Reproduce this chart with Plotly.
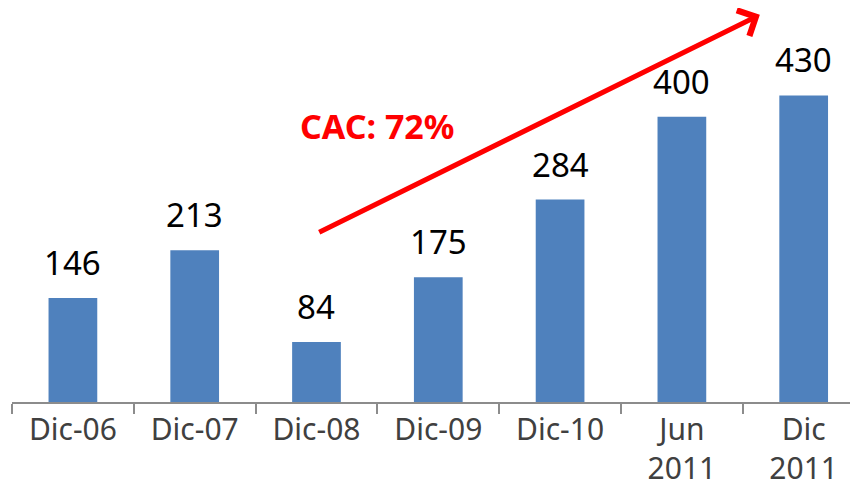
import plotly.graph_objects as go

categories = ["Dic-06", "Dic-07", "Dic-08", "Dic-09", "Dic-10", "Jun<br>2011", "Dic<br>2011"]
values = [146, 213, 84, 175, 284, 400, 430]
label_text = [str(v) for v in values]

fig = go.Figure()
fig.add_trace(go.Bar(
    x=categories, y=values, width=0.4,
    marker=dict(color="#4F81BD", line=dict(width=0)),
    hoverinfo="skip",
))

for c, v, t in zip(categories, values, label_text):
    fig.add_annotation(x=c, y=v, text=t, showarrow=False, yanchor="bottom",
                       yshift=11, font=dict(family="Noto Sans", size=33, color="#000000"))

# growth arrow
fig.add_annotation(x=5.64, y=543, ax=2.01, ay=237, xref="x", yref="y", axref="x", ayref="y",
                   text="", showarrow=True, arrowhead=4, arrowsize=1.1, arrowwidth=5,
                   arrowcolor="#FF0000")
fig.add_annotation(x=2.5, y=387, xref="x", yref="y", text="<b>CAC: 72%</b>", showarrow=False,
                   font=dict(family="Noto Sans", size=34, color="#FF0000"))

fig.update_layout(
    width=850, height=483,
    margin=dict(l=4, r=0, t=0, b=89),
    paper_bgcolor="white", plot_bgcolor="white",
    showlegend=False,
    xaxis=dict(type="category", range=[-0.5, 6.446], showgrid=False, zeroline=False,
               automargin=False,
               showline=True, linecolor="#8C8C8C", linewidth=2,
               ticks="outside", ticklen=10, tickcolor="#8C8C8C", tickwidth=2,
               tickson="boundaries", ticklabelstandoff=0,
               tickfont=dict(family="Noto Sans", size=30, color="#404040")),
    yaxis=dict(range=[0, 552.6], visible=False, showgrid=False, zeroline=False, automargin=False),
)

fig.write_html("out.html")
